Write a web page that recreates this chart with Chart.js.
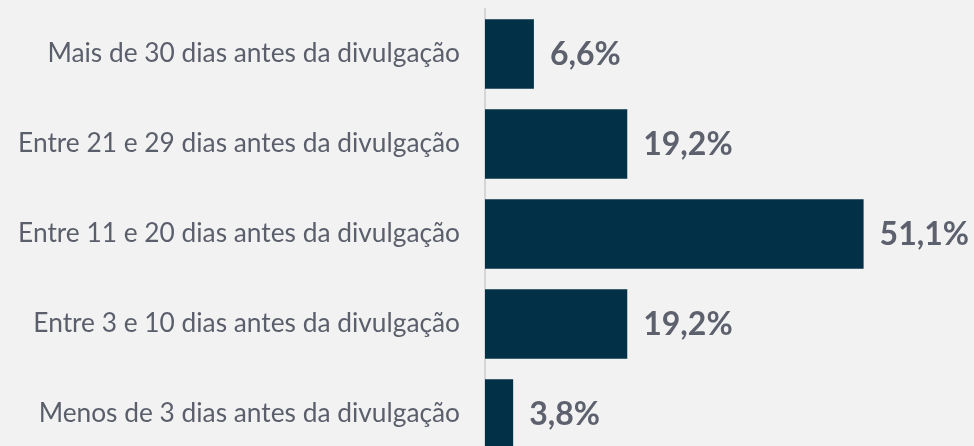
<!DOCTYPE html>
<html>
<head>
<meta charset="utf-8">
<script src="https://cdn.jsdelivr.net/npm/chart.js@4"></script>
<style>
html,body{margin:0;padding:0;background:#f2f2f2;overflow:hidden;}
#wrap{width:974px;height:459px;position:relative;}
</style>
</head>
<body>
<div id="wrap"><canvas id="chart"></canvas></div>
<script>
const categories=["Mais de 30 dias antes da divulgação","Entre 21 e 29 dias antes da divulgação","Entre 11 e 20 dias antes da divulgação","Entre 3 e 10 dias antes da divulgação","Menos de 3 dias antes da divulgação"];
const values=[6.6,19.2,51.1,19.2,3.8];
const valueLabels=["6,6%","19,2%","51,1%","19,2%","3,8%"];

const valuePlugin={
 id:"valueLabels",
 afterDatasetsDraw(chart){
   const ctx=chart.ctx;
   const meta=chart.getDatasetMeta(0);
   ctx.save();
   ctx.font="bold 32px Lato";
   ctx.fillStyle="#5d616d";
   ctx.textAlign="left";
   ctx.textBaseline="middle";
   meta.data.forEach((bar,i)=>{
     ctx.fillText(valueLabels[i],bar.x+16,bar.y+1);
   });
   ctx.restore();
 }
};

new Chart(document.getElementById("chart"),{
 type:"bar",
 data:{labels:categories,datasets:[{data:values,backgroundColor:"#023047",barPercentage:0.77,categoryPercentage:1}]},
 options:{
   indexAxis:"y",
   responsive:true,
   maintainAspectRatio:false,
   animation:false,
   layout:{autoPadding:false,padding:{top:9,right:0,bottom:0,left:0}},
   plugins:{legend:{display:false},tooltip:{enabled:false}},
   scales:{
     x:{display:false,min:0,max:66},
     y:{
       grid:{display:false,drawTicks:false},
       border:{display:true,color:"#d6d6d6",width:2},
       ticks:{color:"#5a5f6b",font:{family:"Lato",size:26.3},padding:25},
       afterFit(s){s.width=485;s.paddingTop=0;s.paddingBottom=0;}
     }
   }
 },
 plugins:[valuePlugin]
});
</script>
</body>
</html>
